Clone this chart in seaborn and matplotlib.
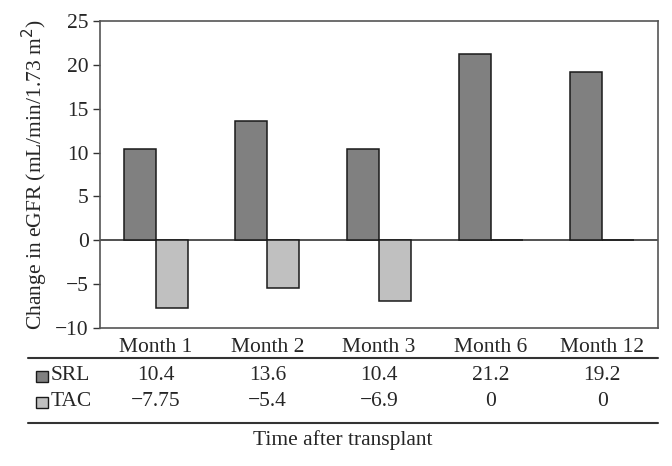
import pandas as pd
import numpy as np
import matplotlib
matplotlib.use("Agg")
import matplotlib.pyplot as plt
import seaborn as sns
from matplotlib.patches import Rectangle

months = ["Month 1", "Month 2", "Month 3", "Month 6", "Month 12"]
srl = [10.4, 13.6, 10.4, 21.2, 19.2]
tac = [-7.75, -5.4, -6.9, 0, 0]
srl_labels = ["10.4", "13.6", "10.4", "21.2", "19.2"]
tac_labels = ["\u22127.75", "\u22125.4", "\u22126.9", "0", "0"]

df = pd.DataFrame({
    "Month": months * 2,
    "Group": ["SRL"] * 5 + ["TAC"] * 5,
    "Value": srl + tac,
})

sns.set_style("white")
plt.rcParams["font.family"] = ["Liberation Serif", "DejaVu Serif"]
plt.rcParams["axes.unicode_minus"] = True

colors = {"SRL": "#808080", "TAC": "#c0c0c0"}
fs = 15.5

fig = plt.figure(figsize=(6.72, 4.66), dpi=100)
ax = fig.add_axes([100 / 672, (466 - 328) / 466, 558 / 672, 307 / 466])

sns.barplot(data=df, x="Month", y="Value", hue="Group", palette=colors,
            width=0.575, gap=0, edgecolor="#1a1a1a", linewidth=1.1,
            legend=False, ax=ax, zorder=3)
ax.axhline(0, color="#333333", lw=1.2, zorder=2)

ax.set_ylim(-10, 25)
ax.set_yticks(np.arange(-10, 26, 5))
ax.set_xlim(-0.5, 4.5)
ax.set_xlabel("")
ax.set_ylabel("Change in eGFR (mL/min/1.73 m$^2$)", fontsize=fs, labelpad=4)
ax.tick_params(axis="y", direction="out", length=5, width=1, color="#333333",
               labelsize=fs, pad=3, left=True)
ax.tick_params(axis="x", length=0, labelsize=fs, pad=7)
for s in ax.spines.values():
    s.set_color("#555555")
    s.set_linewidth(1.2)

# data table below the chart
def ya(y):
    return (328 - y) / 307

def xa(x):
    return (x - 100) / 558

xt = ax.get_xaxis_transform()
for y in [358, 423]:
    ax.plot([xa(28), 1.0], [ya(y), ya(y)], transform=ax.transAxes,
            color="#333333", lw=1.5, clip_on=False)

for i in range(len(months)):
    ax.text(i, ya(376), srl_labels[i], transform=xt, ha="center", va="center", fontsize=fs)
    ax.text(i, ya(402), tac_labels[i], transform=xt, ha="center", va="center", fontsize=fs)

for name, y in [("SRL", 376), ("TAC", 402)]:
    ax.add_patch(Rectangle((xa(36), ya(y) - 5.5 / 307), 12 / 558, 11 / 307,
                           transform=ax.transAxes, facecolor=colors[name],
                           edgecolor="#1a1a1a", lw=1, clip_on=False))
    ax.text(xa(51), ya(y), name, transform=ax.transAxes, ha="left", va="center", fontsize=fs)

ax.text(xa(343), ya(440), "Time after transplant", transform=ax.transAxes,
        ha="center", va="center", fontsize=fs)

fig.savefig("out.png", dpi=100)
